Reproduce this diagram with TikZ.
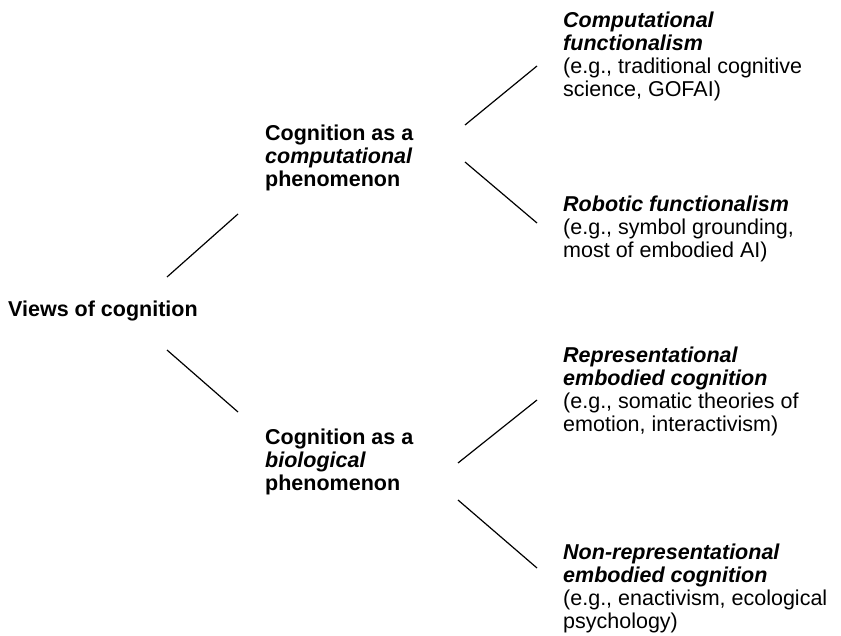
\documentclass[tikz,border=0pt]{standalone}
\usepackage{fontspec}
\setmainfont{Liberation Sans}
\begin{document}
\begin{tikzpicture}[x=1pt,y=-1pt,
  lbl/.style={anchor=base west,inner sep=0pt,align=left,font=\fontsize{21.5}{23}\selectfont},
  bl/.style={lbl,font=\fontsize{21.5}{23}\selectfont\bfseries},
  conn/.style={line width=1.2pt,black}]
\useasboundingbox (0,0) rectangle (841,636);
\node[bl] (views) at (8,317) {Views of cognition};
\node[bl] (comp) at (265,187) {Cognition as a\\\textit{computational}\\phenomenon};
\node[bl] (bio) at (265,490) {Cognition as a\\\textit{biological}\\phenomenon};
\node[lbl] (cf) at (563,97) {\textbf{\textit{Computational}}\\\textbf{\textit{functionalism}}\\(e.g., traditional cognitive\\science, GOFAI)};
\node[lbl] (rf) at (563,258) {\textbf{\textit{Robotic functionalism}}\\(e.g., symbol grounding,\\most of embodied AI)};
\node[lbl] (rec) at (563,431) {\textbf{\textit{Representational}}\\\textbf{\textit{embodied cognition}}\\(e.g., somatic theories of\\emotion, interactivism)};
\node[lbl] (nrec) at (563,628) {\textbf{\textit{Non-representational}}\\\textbf{\textit{embodied cognition}}\\(e.g., enactivism, ecological\\psychology)};
\coordinate (a1) at (167,277); \coordinate (a2) at (238,214);
\coordinate (b1) at (167,350); \coordinate (b2) at (238,412);
\coordinate (c1) at (465,125); \coordinate (c2) at (537,66);
\coordinate (d1) at (465,162); \coordinate (d2) at (537,223);
\coordinate (e1) at (458,463); \coordinate (e2) at (537,400);
\coordinate (f1) at (458,500); \coordinate (f2) at (537,568);
\draw[conn] (a1) -- (a2);
\draw[conn] (b1) -- (b2);
\draw[conn] (c1) -- (c2);
\draw[conn] (d1) -- (d2);
\draw[conn] (e1) -- (e2);
\draw[conn] (f1) -- (f2);
\end{tikzpicture}
\end{document}
